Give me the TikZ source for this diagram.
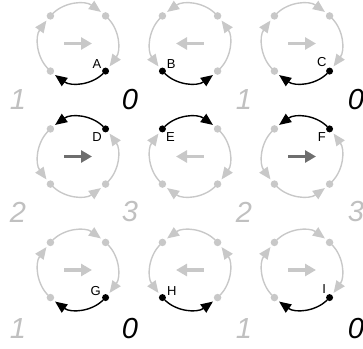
\documentclass[tikz,border=0pt]{standalone}
\usepackage{fontspec}
\setmainfont{Liberation Sans}
\usepackage{tikz}
\usetikzlibrary{calc,arrows.meta}

\definecolor{ltgray}{HTML}{C8C8C8}
\definecolor{numgray}{HTML}{C0C0C0}
\definecolor{dkgray}{HTML}{6E6E6E}

\begin{document}
\begin{tikzpicture}[x=1pt,y=1pt, >={Triangle[length=12pt,width=10pt]},
  ele/.style={fill=black,circle,inner sep=0pt,minimum size=7pt},
  gele/.style={fill=ltgray,circle,inner sep=0pt,minimum size=7.5pt},
  lbl/.style={font=\fontsize{13}{13}\selectfont,inner sep=1pt,label distance=0pt},
  garc/.style={->,draw=ltgray,line width=1.4pt,shorten <=3.5pt},
  barc/.style={->,draw=black,line width=1.4pt,shorten <=3.5pt},
  clight/.style={draw=ltgray,line width=3.8pt,>={Triangle[length=11pt,width=12pt]}},
  cdark/.style={draw=dkgray,line width=3.8pt,>={Triangle[length=11pt,width=12pt]}},
  num/.style={font=\fontsize{29}{29}\selectfont\itshape}]
  \useasboundingbox (0,0) rectangle (363,348);

  % one panel per tuple: centre, start angle, step, bend side, label, label angle, centre arrow
  \foreach \cx/\cy/\s/\d/\b/\lab/\la/\ac/\ad in {
      78/304.5/-45/-90/left/A/150/clight/->,
      190/304.5/-135/90/right/B/30/clight/<-,
      302/304.5/-45/-90/left/C/120/clight/->,
      78/191.5/45/90/right/D/225/cdark/->,
      190/191.5/135/-90/left/E/315/clight/<-,
      302/191.5/45/90/right/F/225/cdark/->,
      78/78/-45/-90/left/G/165/clight/->,
      190/78/-135/90/right/H/15/clight/<-,
      302/78/-45/-90/left/I/130/clight/->}{
    \coordinate (c\lab) at (\cx,\cy);
    \node[ele,label={[lbl]\la:\lab}] (\lab0) at ($(c\lab)+(\s:39)$) {};
    \foreach \k [evaluate=\k as \a using {\s+\k*\d}] in {1,2,3}
      \node[gele] (\lab\k) at ($(c\lab)+(\a:39)$) {};
    % arrow ends stop just before the next dot
    \foreach \k [evaluate=\k as \e using {\s+(\k+1)*\d-\d/10}] in {0,...,3}
      \coordinate (e\lab\k) at ($(c\lab)+(\e:39)$);
    \draw[garc] (\lab1.center) to[bend \b=40.5] (e\lab1);
    \draw[garc] (\lab2.center) to[bend \b=40.5] (e\lab2);
    \draw[garc] (\lab3.center) to[bend \b=40.5] (e\lab3);
    \draw[barc] (\lab0.center) to[bend \b=40.5] (e\lab0);
    \draw[\ac,\ad] ([xshift=-14pt]c\lab) -- ([xshift=14pt]c\lab);
  }

  % state numbers
  \foreach \x/\t/\c [count=\n] in {18/1/numgray,130/0/black,244/1/numgray,356/0/black}{
    \node[num,text=\c] (t\n) at (\x,248.5) {\t};
    \node[num,text=\c] (b\n) at (\x,19) {\t};
  }
  \foreach \x/\t [count=\n] in {18/2,130/3,244/2,356/3}
    \node[num,text=numgray] (m\n) at (\x,136) {\t};
\end{tikzpicture}
\end{document}
